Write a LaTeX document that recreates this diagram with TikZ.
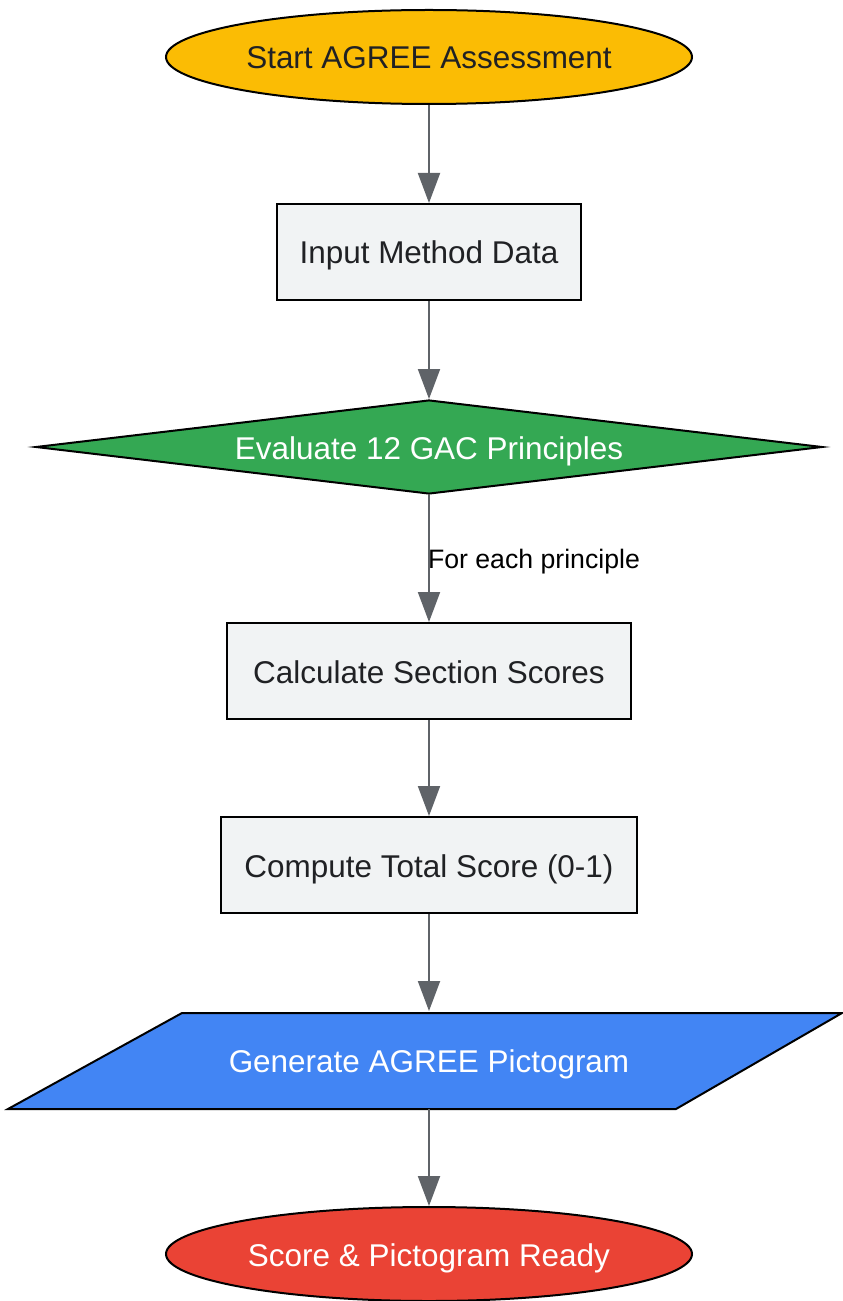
\documentclass[tikz,border=0pt]{standalone}
\usepackage{fontspec}
\setmainfont{Liberation Sans}
\usepackage{xcolor}
\usetikzlibrary{
    shapes.geometric,
    arrows.meta,
    backgrounds
}
\definecolor{startyellow}{HTML}{FBBC04}
\definecolor{evalgreen}{HTML}{34A853}
\definecolor{pictoblue}{HTML}{4285F4}
\definecolor{readyred}{HTML}{EA4335}
\definecolor{boxgray}{HTML}{F1F3F4}
\definecolor{linegray}{HTML}{5F6368}
\definecolor{textgray}{HTML}{202124}

\begin{document}
\begin{tikzpicture}[x=0.75pt,y=-0.75pt,->,>={Triangle[length=22.5pt,width=16.5pt]},line width=1.5pt]
    \tikzstyle{every node}=[font=\fontsize{23.6}{28}\selectfont, text=textgray, draw=black, line width=1.5pt, inner sep=0pt, text height=18pt, text depth=0pt]
    \tikzstyle{terminal}=[ellipse, minimum width=394.5pt, minimum height=70.5pt, text=white]
    \tikzstyle{process}=[rectangle, fill=boxgray, minimum height=72pt]
    \tikzstyle{flow}=[draw=linegray, fill=linegray, line width=1.5pt]
    \useasboundingbox (0,0) rectangle (842,1301);

    \node[terminal, fill=startyellow, text=textgray] (start) at (429, 57) {Start AGREE Assessment};
    \node[process, minimum width=228pt] (input) at (429, 252) {Input Method Data};
    \node[diamond, aspect=8.34, fill=evalgreen, text=white, minimum width=590pt, minimum height=70.5pt] (eval) at (429, 447) {Evaluate 12 GAC Principles};
    \node[process, minimum width=303pt] (calc) at (429, 671) {Calculate Section Scores};
    \node[process, minimum width=312pt] (total) at (429, 865) {Compute Total Score (0-1)};
    \node[rectangle, draw=none, text=white, minimum width=495pt, minimum height=72pt] (picto) at (429, 1060) {Generate AGREE Pictogram};
    \node[terminal, fill=readyred] (ready) at (429, 1254) {Score \& Pictogram Ready};

    % parallelogram behind the pictogram text
    \begin{pgfonlayer}{background}
        \draw[-, draw=black, line width=1.5pt, fill=pictoblue] (picto.south) ++(-421,0) -- ++(668,0) -- ++(166,-96) -- ++(-660,0) -- cycle;
    \end{pgfonlayer}

    \path[flow] (start) edge (input)
        (input) edge (eval)
        (eval) edge node[draw=none, fill=none, anchor=west, xshift=-1.5pt, font=\fontsize{20}{24}\selectfont, text=black, text height=15pt] {For each principle} (calc)
        (calc) edge (total)
        (total) edge (picto)
        (picto) edge (ready);
\end{tikzpicture}
\end{document}
